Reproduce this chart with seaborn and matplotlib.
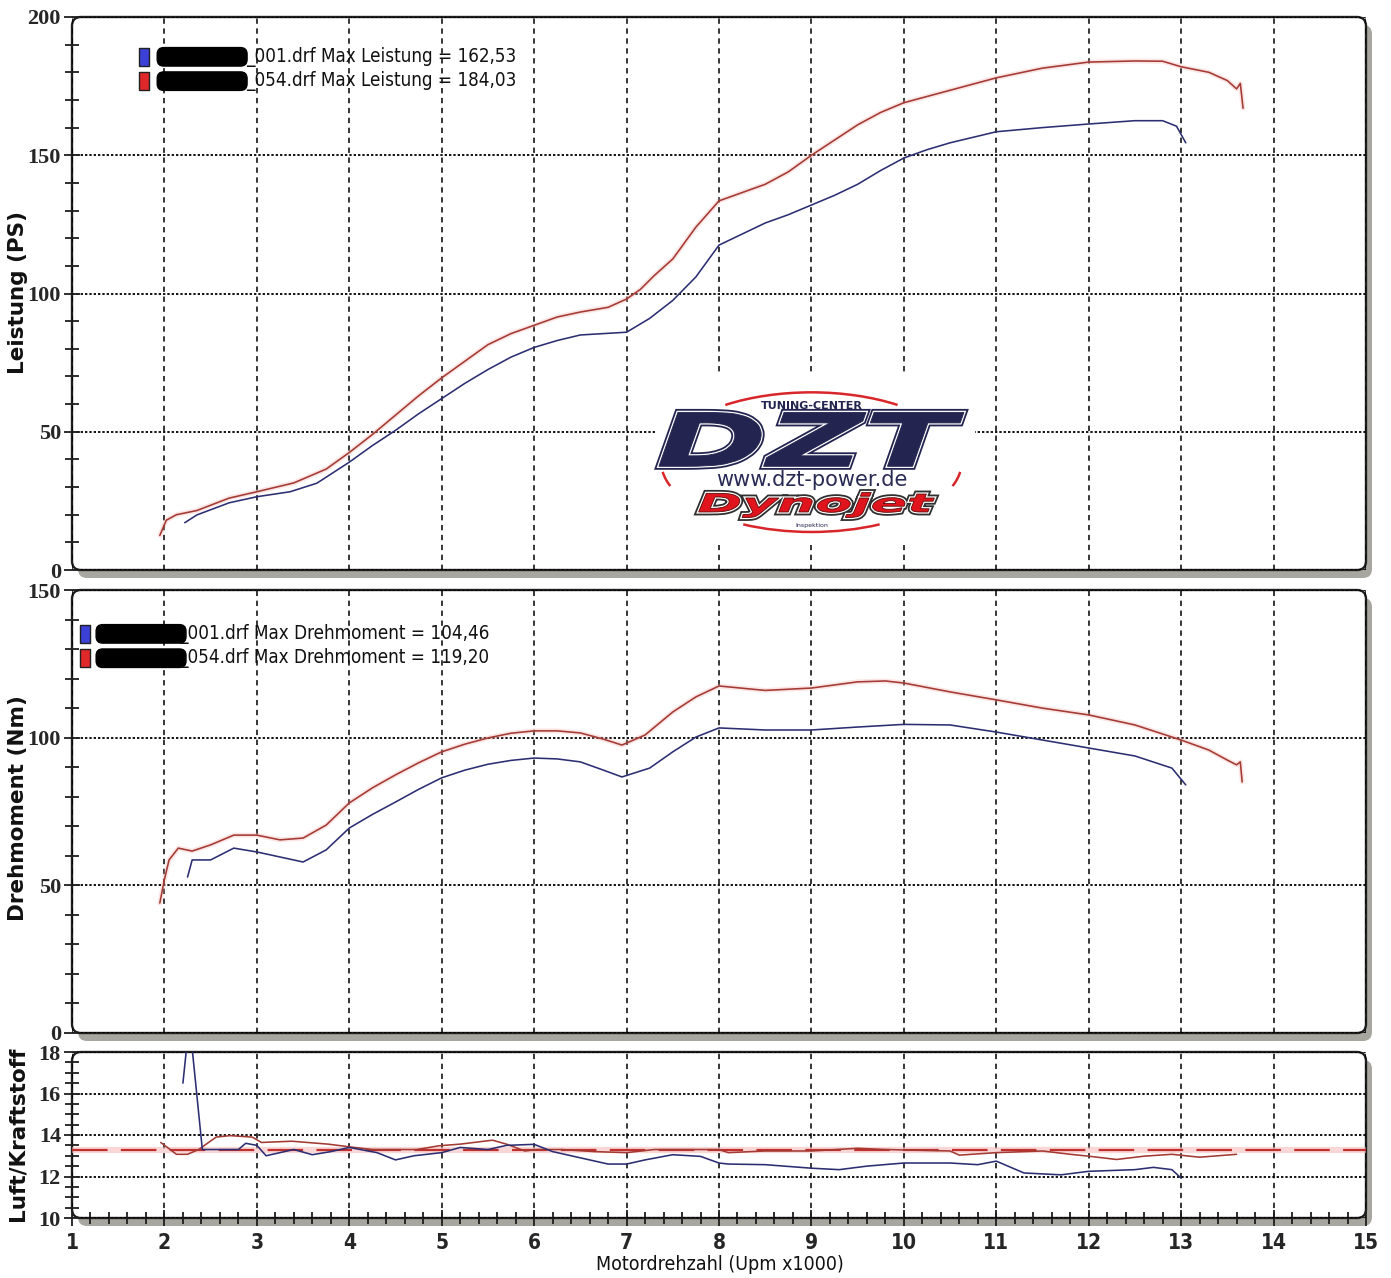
import numpy as np
import pandas as pd
import matplotlib
matplotlib.use("Agg")
import matplotlib.pyplot as plt
import seaborn as sns
from matplotlib.patches import FancyBboxPatch, Rectangle, PathPatch, Arc
from matplotlib.transforms import ScaledTranslation, Affine2D
from matplotlib.textpath import TextPath
from matplotlib.font_manager import FontProperties
from matplotlib.ticker import MultipleLocator

# ---- data ----
rpm_ps_054 = [1.95, 2.02, 2.13, 2.35, 2.7, 3.0, 3.4, 3.75, 4.0, 4.25, 4.5, 4.75, 5.0,
              5.25, 5.5, 5.75, 6.0, 6.25, 6.5, 6.8, 7.0, 7.15, 7.3, 7.5, 7.75, 8.0,
              8.25, 8.5, 8.75, 9.0, 9.25, 9.5, 9.75, 10.0, 10.5, 11.0, 11.5, 12.0,
              12.5, 12.8, 13.0, 13.3, 13.5, 13.6, 13.64, 13.67]
ps_054 = [12.5, 18, 20, 21.5, 26, 28.3, 31.5, 36.5, 42.5, 49, 56, 63, 69.5,
          75.5, 81.5, 85.5, 88.5, 91.5, 93.3, 95, 98, 101.5, 106.5, 112.5, 124, 133.5,
          136.5, 139.5, 144, 150, 155.5, 161, 165.5, 169, 173.5, 178, 181.5, 183.7,
          184.1, 184, 182, 180, 177, 174, 176, 167]

rpm_ps_001 = [2.22, 2.35, 2.7, 3.0, 3.36, 3.65, 4.0, 4.25, 4.5, 4.75, 5.0, 5.25, 5.5,
              5.75, 6.0, 6.25, 6.5, 6.75, 7.0, 7.25, 7.5, 7.75, 8.0, 8.25, 8.5, 8.75,
              9.0, 9.25, 9.5, 9.75, 10.0, 10.25, 10.5, 11.0, 11.5, 12.0, 12.5, 12.8,
              12.95, 13.05]
ps_001 = [17.1, 19.9, 24.3, 26.5, 28.3, 31.4, 39, 45, 50.5, 56.5, 62, 67.5, 72.5,
          77, 80.5, 83, 85, 85.5, 86, 91, 97.5, 106, 117.5, 121.5, 125.5, 128.5,
          132, 135.5, 139.5, 144.5, 149, 152, 154.5, 158.5, 160, 161.3, 162.5, 162.5,
          160.5, 154.5]

rpm_nm_054 = [1.95, 2.0, 2.05, 2.15, 2.3, 2.5, 2.75, 3.0, 3.25, 3.5, 3.75, 4.0, 4.25,
              4.5, 4.75, 5.0, 5.25, 5.5, 5.75, 6.0, 6.25, 6.5, 6.75, 6.95, 7.2, 7.5,
              7.75, 8.0, 8.5, 9.0, 9.5, 9.8, 10.0, 10.5, 11.0, 11.5, 12.0, 12.5, 13.0,
              13.3, 13.5, 13.6, 13.64, 13.66]
nm_054 = [44, 52, 58.6, 62.6, 61.6, 63.7, 67, 67, 65.4, 66, 70.4, 77.9, 83,
          87.4, 91.5, 95.2, 97.8, 99.9, 101.5, 102.3, 102.3, 101.6, 99.5, 97.5, 100.9, 108.7,
          113.8, 117.5, 116, 116.8, 118.9, 119.2, 118.5, 115.5, 112.8, 110, 107.7, 104.3, 99.2,
          95.8, 92.4, 90.8, 91.8, 85]

rpm_nm_001 = [2.25, 2.3, 2.5, 2.75, 3.0, 3.25, 3.5, 3.75, 4.0, 4.25, 4.5, 4.75, 5.0,
              5.25, 5.5, 5.75, 6.0, 6.25, 6.5, 6.75, 6.95, 7.25, 7.5, 7.75, 8.0, 8.5,
              9.0, 9.5, 10.0, 10.5, 11.0, 11.5, 12.0, 12.5, 12.9, 13.05]
nm_001 = [52.8, 58.6, 58.6, 62.6, 61.3, 59.6, 57.9, 62, 69.4, 74, 78.2, 82.5, 86.4,
          89, 91, 92.3, 93.1, 92.8, 91.8, 89, 86.7, 89.7, 95.2, 100.2, 103.3, 102.6,
          102.6, 103.6, 104.5, 104.3, 101.9, 99.2, 96.5, 93.8, 89.7, 84]

rpm_afr_054 = [1.96, 2.13, 2.25, 2.37, 2.56, 2.71, 2.95, 3.05, 3.38, 3.77, 4.0, 4.25,
               4.73, 4.97, 5.2, 5.55, 5.7, 5.9, 6.03, 6.3, 6.65, 7.0, 7.3, 8.0, 8.1,
               8.5, 9.0, 9.5, 9.8, 10.5, 10.6, 11.0, 11.5, 11.8, 12.0, 12.3, 12.6,
               12.9, 13.2, 13.6]
afr_054 = [13.64, 13.07, 13.07, 13.3, 13.9, 13.97, 13.9, 13.64, 13.7, 13.56, 13.43, 13.3,
           13.3, 13.48, 13.56, 13.75, 13.56, 13.23, 13.3, 13.3, 13.2, 13.15, 13.3, 13.3, 13.15,
           13.23, 13.23, 13.36, 13.3, 13.23, 13.03, 13.15, 13.23, 13.07, 12.98, 12.82, 12.98,
           13.07, 12.93, 13.07]

rpm_afr_001 = [2.2, 2.27, 2.41, 2.8, 2.88, 3.0, 3.1, 3.2, 3.4, 3.6, 3.8, 4.0, 4.3, 4.5,
               4.7, 5.0, 5.2, 5.5, 5.7, 6.0, 6.2, 6.5, 6.8, 7.0, 7.2, 7.5, 7.8, 8.0,
               8.1, 8.5, 9.0, 9.3, 9.6, 10.0, 10.5, 10.8, 11.0, 11.3, 11.7, 12.0, 12.5,
               12.7, 12.9, 13.0]
afr_001 = [16.5, 19.5, 13.3, 13.3, 13.6, 13.5, 13.0, 13.1, 13.3, 13.05, 13.2, 13.4, 13.15, 12.8,
           13.0, 13.15, 13.4, 13.3, 13.5, 13.55, 13.2, 12.9, 12.6, 12.6, 12.8, 13.05, 12.97, 12.65,
           12.6, 12.57, 12.4, 12.33, 12.5, 12.65, 12.65, 12.57, 12.74, 12.17, 12.08, 12.25, 12.33,
           12.44, 12.33, 11.92]

afr_target = 13.3

ps_legend = ["_001.drf Max Leistung = 162,53", "_054.drf Max Leistung = 184,03"]
nm_legend = ["_001.drf Max Drehmoment = 104,46", "_054.drf Max Drehmoment = 119,20"]
redacted = "Schwinger"

x_ticks = list(range(1, 16))
ps_ticks = [0, 50, 100, 150, 200]
nm_ticks = [0, 50, 100, 150]
afr_ticks = [10, 12, 14, 16, 18]

BLUE = "#2c2e72"
RED = "#a33a33"
NAVY = "#23244f"

sns.set_theme(style="white")
plt.rcParams["font.family"] = ["DejaVu Sans"]

W, H = 1391, 1278
fig = plt.figure(figsize=(W / 100, H / 100), dpi=100)
fig.patch.set_facecolor("white")


def box(l, t, r, b):
    return [l / W, 1 - b / H, (r - l) / W, (b - t) / H]


panels = [(72, 17, 1366, 570), (72, 590, 1366, 1033), (72, 1052, 1366, 1218)]
axes = [fig.add_axes(box(*p)) for p in panels]


def frame(ax, p):
    wpx, hpx = p[2] - p[0], p[3] - p[1]
    ax.patch.set_visible(False)
    for s in ax.spines.values():
        s.set_visible(False)
    r = 9 / wpx
    style = f"round,pad=0,rounding_size={r}"
    shadow = FancyBboxPatch((0, 0), 1, 1, boxstyle=style, mutation_aspect=wpx / hpx,
                            transform=ax.transAxes + ScaledTranslation(0.06, -0.08, fig.dpi_scale_trans),
                            fc="#a8a79f", ec="none", clip_on=False, zorder=0)
    face = FancyBboxPatch((0, 0), 1, 1, boxstyle=style, mutation_aspect=wpx / hpx,
                          transform=ax.transAxes, fc="white", ec="#1e1e1e", lw=1.7,
                          clip_on=False, zorder=0.1)
    ax.add_patch(shadow)
    ax.add_patch(face)
    ax.set_axisbelow(True)
    ax.set_xlim(1, 15)
    ax.set_xticks(x_ticks)
    ax.xaxis.grid(True, ls=(0, (3.5, 3)), color="black", lw=1.1)
    ax.yaxis.grid(True, ls=(0, (1.3, 1.1)), color="black", lw=1.3)
    ax.tick_params(axis="y", which="both", left=True, direction="inout", width=1.3,
                   color="#1e1e1e", pad=2, labelsize=16)
    ax.tick_params(axis="y", which="major", length=12)
    ax.tick_params(axis="y", which="minor", length=10)


def style_labels(labels, family=None, stretch="condensed"):
    for lab in labels:
        lab.set_fontweight("bold")
        if family:
            lab.set_family(family)
        else:
            lab.set_fontstretch(stretch)


def curve(ax, x, y, color, halo=None):
    if halo:
        sns.lineplot(x=x, y=y, ax=ax, color=halo, lw=3.5, alpha=0.3, sort=False, zorder=2)
    sns.lineplot(x=x, y=y, ax=ax, color=color, lw=1.15, sort=False, zorder=3)


def legend(ax, ys, labels, xpatch, xred, xlab):
    for y, lab, col in zip(ys, labels, ["#3b40d6", "#e0282a"]):
        ax.plot([xpatch], [y], transform=ax.transAxes,
                marker=[(-0.6, -1), (0.6, -1), (0.6, 1), (-0.6, 1), (-0.6, -1)],
                ms=13, mfc=col, mec="#202020", mew=1, ls="none", clip_on=False, zorder=5)
        ax.text(xred, y, redacted, transform=ax.transAxes, va="center", ha="left",
                fontsize=10.5, fontweight="bold", color="black", zorder=5,
                bbox=dict(boxstyle="round,pad=0.12,rounding_size=0.45", fc="black", ec="black"))
        ax.text(xlab, y, lab, transform=ax.transAxes, va="center", ha="left",
                fontsize=13.5, fontstretch="condensed", color="#111111", zorder=5)


# ---- top: power ----
ax1 = axes[0]
frame(ax1, panels[0])
curve(ax1, rpm_ps_054, ps_054, RED, halo="#f2a8a8")
curve(ax1, rpm_ps_001, ps_001, BLUE)
ax1.set_ylim(0, 200)
ax1.set_yticks(ps_ticks)
ax1.yaxis.set_minor_locator(MultipleLocator(10))
ax1.tick_params(axis="x", bottom=False, labelbottom=False)
style_labels(ax1.get_yticklabels(), family="Liberation Serif")
legend(ax1, [0.928, 0.884], ps_legend, 0.0556, 0.0672, 0.1345)

# logo on white plate
ax1.add_patch(Rectangle((7.31, 9), 3.46, 62.5, fc="white", ec="none", zorder=1.5))


def logo_word(ax, s, x0, x1, y0, y1, face, edge, under):
    fp = FontProperties(family="DejaVu Sans", weight="bold", style="italic")
    tp = TextPath((0, 0), s, size=1, prop=fp)
    bb = tp.get_extents()
    tr = (Affine2D().translate(-bb.x0, -bb.y0)
          .scale((x1 - x0) / bb.width, (y1 - y0) / bb.height)
          .translate(x0, y0) + ax.transData)
    ax.add_patch(PathPatch(tp, transform=tr, fc="none", ec=under, lw=5, zorder=3))
    ax.add_patch(PathPatch(tp, transform=tr, fc="none", ec="white", lw=2.4, zorder=3.1))
    ax.add_patch(PathPatch(tp, transform=tr, fc=face, ec=edge, lw=0.6, zorder=3.2))


ring = Affine2D().scale(3.25, 50.5).translate(9.0, 39.0) + ax1.transData
for t1, t2 in [(55, 125), (243, 297), (188, 200), (340, 352)]:
    ax1.add_patch(Arc((0, 0), 1, 1, theta1=t1, theta2=t2, color="#d8262a",
                      lw=1.8, transform=ring, zorder=2.5))
ax1.text(9.0, 59.3, "TUNING-CENTER", ha="center", va="center", fontsize=8,
         fontweight="bold", color=NAVY, zorder=3)
logo_word(ax1, "DZT", 7.35, 10.65, 37.5, 57.0, NAVY, NAVY, NAVY)
ax1.text(9.0, 32.5, "www.dzt-power.de", ha="center", va="center", fontsize=15,
         color="#2a2b55", zorder=3)
logo_word(ax1, "Dynojet", 7.78, 10.33, 19.0, 28.0, "#e0141c", "#5a0a0a", "#303030")
ax1.text(9.0, 16.0, "Inspektion", ha="center", va="center", fontsize=4.5,
         color=NAVY, zorder=3)

# ---- middle: torque ----
ax2 = axes[1]
frame(ax2, panels[1])
curve(ax2, rpm_nm_054, nm_054, RED, halo="#f2a8a8")
curve(ax2, rpm_nm_001, nm_001, BLUE)
ax2.set_ylim(0, 150)
ax2.set_yticks(nm_ticks)
ax2.yaxis.set_minor_locator(MultipleLocator(10))
ax2.tick_params(axis="x", bottom=False, labelbottom=False)
style_labels(ax2.get_yticklabels(), family="Liberation Serif")
legend(ax2, [0.901, 0.846], nm_legend, 0.0097, 0.0200, 0.0830)

# ---- bottom: air / fuel ----
ax3 = axes[2]
frame(ax3, panels[2])
ax3.axhline(afr_target, color="#f6b6b6", lw=4.5, alpha=0.55, zorder=2)
ax3.axhline(afr_target, color="#c0302c", lw=1.6, ls=(0, (16, 6)), zorder=2.2)
curve(ax3, rpm_afr_054, afr_054, RED)
curve(ax3, rpm_afr_001, afr_001, BLUE)
ax3.set_ylim(10, 18)
ax3.set_yticks(afr_ticks)
ax3.yaxis.set_minor_locator(MultipleLocator(0.5))
ax3.xaxis.set_minor_locator(MultipleLocator(0.2))
ax3.tick_params(axis="x", which="both", bottom=True, direction="inout", width=1.3,
                color="#1e1e1e", labelsize=15, pad=5)
ax3.tick_params(axis="x", which="major", length=12)
ax3.tick_params(axis="x", which="minor", length=9)
style_labels(ax3.get_yticklabels(), family="Liberation Serif")
style_labels(ax3.get_xticklabels())

for ax in axes:
    ax.set_xlabel("")
    ax.set_ylabel("")

# axis titles
for ypx, txt in [(292, "Leistung (PS)"), (808, "Drehmoment (Nm)"), (1134, "Luft/Kraftstoff")]:
    fig.text(18 / W, 1 - ypx / H, txt, rotation=90, ha="center", va="center",
             fontsize=15.5, fontweight="bold", color="#111111")
fig.text(720 / W, 1 - 1265 / H, "Motordrehzahl (Upm x1000)", ha="center", va="center",
         fontsize=14, fontstretch="condensed", color="#111111")

fig.savefig("out.png", dpi=100)
